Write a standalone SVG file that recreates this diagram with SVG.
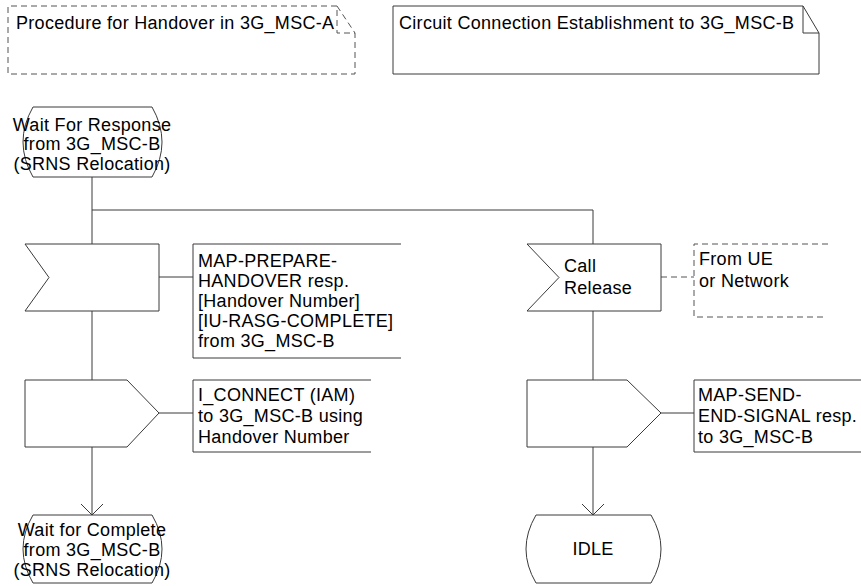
<svg xmlns="http://www.w3.org/2000/svg" width="861" height="586" viewBox="0 0 861 586">
<style>
.ln{fill:none;stroke:#3a3a3a;stroke-width:1}
.sh{fill:#fff;stroke:#3a3a3a;stroke-width:1}
.dash{fill:none;stroke:#555;stroke-width:1;stroke-dasharray:6,4}
text{font-family:"Liberation Sans",Arial,sans-serif;font-size:18px;fill:#000;letter-spacing:0.3px}
.c{text-anchor:middle}
</style>
<defs>
<marker id="arr" markerWidth="14" markerHeight="24" refX="11" refY="11" orient="auto" markerUnits="userSpaceOnUse" viewBox="0 0 14 24">
<path d="M0,0 L11,11 L0,22" fill="none" stroke="#3a3a3a" stroke-width="1"/>
</marker>
</defs>
<rect width="861" height="586" fill="#fff"/>

<g id="title-procedure">
<path class="dash" d="M337,6 H8 V74 H355 V33 H337 V6 L355,33"/>
<text x="16" y="29">Procedure for Handover in 3G_MSC-A</text>
</g>

<g id="title-circuit">
<path class="ln" d="M803,6 H393 V74 H819 V33 L803,6 V33 H819"/>
<text x="399" y="29">Circuit Connection Establishment to 3G_MSC-B</text>
</g>

<g id="connectors">
<line class="ln" x1="92" y1="177" x2="92" y2="210" stroke-width="2"/>
<line class="ln" x1="92" y1="210" x2="92" y2="244"/>
<line class="ln" x1="92" y1="210" x2="593" y2="210"/>
<line class="ln" x1="593" y1="210" x2="593" y2="244"/>
<line class="ln" x1="159" y1="277" x2="193" y2="277"/>
<line class="ln" x1="92" y1="311" x2="92" y2="380"/>
<line class="ln" x1="159" y1="413" x2="193" y2="413"/>
<line class="ln" x1="92" y1="447" x2="92" y2="515" marker-end="url(#arr)"/>
<line class="dash" x1="661" y1="277" x2="694" y2="277"/>
<line class="ln" x1="593" y1="311" x2="593" y2="380"/>
<line class="ln" x1="661" y1="413" x2="694" y2="413"/>
<line class="ln" x1="593" y1="447" x2="593" y2="515" marker-end="url(#arr)"/>
</g>

<g id="state-wait-response">
<path class="sh" d="M33,107 H152 Q172,142 152,177 H33 Q13,142 33,107 Z"/>
<text class="c" x="92" y="131">Wait For Response</text>
<text class="c" x="92" y="150">from 3G_MSC-B</text>
<text class="c" x="92" y="170">(SRNS Relocation)</text>
</g>

<g id="input-map-prepare">
<path class="sh" d="M25,244 H159 V311 H25 L49,277.5 Z"/>
</g>
<g id="comment-map-prepare">
<path class="ln" d="M401,244 H193 V358 H401"/>
<text x="198" y="267">MAP-PREPARE-</text>
<text x="198" y="287">HANDOVER resp.</text>
<text x="198" y="307">[Handover Number]</text>
<text x="198" y="327">[IU-RASG-COMPLETE]</text>
<text x="198" y="347">from 3G_MSC-B</text>
</g>

<g id="output-i-connect">
<path class="sh" d="M25,380 H127 L159,413 L127,447 H25 Z"/>
</g>
<g id="comment-i-connect">
<path class="ln" d="M371,380 H193 V452 H371"/>
<text x="198" y="401">I_CONNECT (IAM)</text>
<text x="198" y="422">to 3G_MSC-B using</text>
<text x="198" y="443">Handover Number</text>
</g>

<g id="state-wait-complete">
<path class="sh" d="M33,515 H152 Q172,549 152,583 H33 Q13,549 33,515 Z"/>
<text class="c" x="92" y="536">Wait for Complete</text>
<text class="c" x="92" y="556">from 3G_MSC-B</text>
<text class="c" x="92" y="576">(SRNS Relocation)</text>
</g>

<g id="input-call-release">
<path class="sh" d="M527,244 H661 V311 H527 L559,277.5 Z"/>
<text x="564" y="272">Call</text>
<text x="564" y="294">Release</text>
</g>
<g id="comment-from-ue">
<path class="dash" d="M828,244 H694 V317 H826"/>
<text x="699" y="265">From UE</text>
<text x="699" y="287">or Network</text>
</g>

<g id="output-map-send">
<path class="sh" d="M527,380 H627 L661,413 L627,447 H527 Z"/>
</g>
<g id="comment-map-send">
<path class="ln" d="M861,380 H694 V452 H861"/>
<text x="698" y="401">MAP-SEND-</text>
<text x="698" y="422">END-SIGNAL resp.</text>
<text x="698" y="443">to 3G_MSC-B</text>
</g>

<g id="state-idle">
<path class="sh" d="M536,515 H651 Q671,549 651,583 H536 Q516,549 536,515 Z"/>
<text class="c" x="593" y="555">IDLE</text>
</g>
</svg>
